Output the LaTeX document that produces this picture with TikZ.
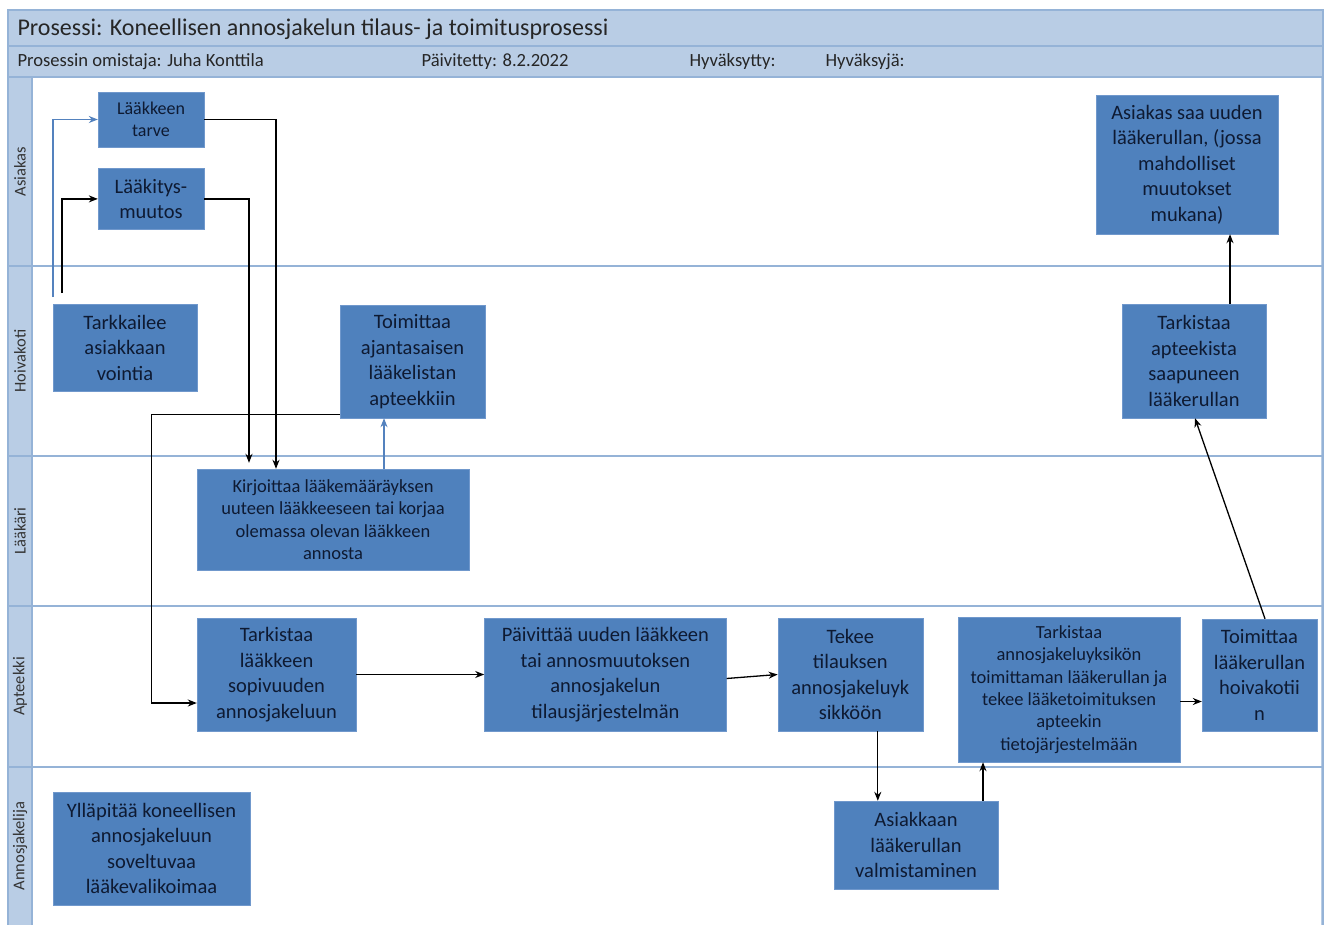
\documentclass[tikz,border=0pt]{standalone}
\usepackage{fontspec}
\setmainfont{Carlito}
\usetikzlibrary{positioning,arrows.meta}
\definecolor{taskfill}{RGB}{79,129,189}
\definecolor{taskline}{RGB}{112,152,204}
\definecolor{tasktext}{RGB}{14,26,50}
\definecolor{lanefill}{RGB}{185,205,229}
\definecolor{laneline}{RGB}{149,179,215}
\definecolor{flowblue}{RGB}{84,130,190}
\tikzstyle{arrow} = [line width=1.3pt,->,>={Stealth[length=9pt,width=7pt]}]
\tikzstyle{bluearrow} = [arrow,line width=1.1pt,flowblue]
\tikzstyle{task} = [draw=taskline, fill=taskfill, text=tasktext, align=center, inner sep=0pt, font=\fontsize{20.5}{25.5}\selectfont]
\tikzstyle{smalltask} = [task, font=\fontsize{18.5}{22.4}\selectfont]
\tikzstyle{headtext} = [anchor=west, text=black!85, font=\fontsize{18.6}{22}\selectfont]
\tikzstyle{lanelabel} = [rotate=90, text=black!80, font=\fontsize{16.5}{20}\selectfont]

\begin{document}
\begin{tikzpicture}[x=1pt,y=-1pt]
    \useasboundingbox (0,0) rectangle (1327,925);
    \fill [lanefill] (8,10) rectangle (1323,925);
    \fill [white] (32,77) rectangle (1321,925);
    \draw [laneline, line width=1.5pt] (8,925) -- (8,10) -- (1323,10) -- (1323,925);
    \draw [laneline, line width=1.5pt] (8,46) -- (1323,46);
    \draw [laneline, line width=1.5pt] (8,77) -- (1323,77);
    \draw [laneline, line width=1.5pt] (32,77) -- (32,925);
    \foreach \y in {266,456,606,767}
        \draw [laneline, line width=2.2pt] (8,\y) -- (1323,\y);

    \node (title) [headtext, font=\fontsize{24}{28}\selectfont] at (14,29) {Prosessi: Koneellisen annosjakelun tilaus- ja toimitusprosessi};
    \node (owner) [headtext] at (14,62) {Prosessin omistaja: Juha Konttila};
    \node (updated) [headtext] at (418,62) {Päivitetty: 8.2.2022};
    \node (approved) [headtext] at (686,62) {Hyväksytty:};
    \node (approver) [headtext] at (822,62) {Hyväksyjä:};

    \node (lane-asiakas) [lanelabel] at (20,171.5) {Asiakas};
    \node (lane-hoivakoti) [lanelabel] at (20,361) {Hoivakoti};
    \node (lane-laakari) [lanelabel] at (20,531) {Lääkäri};
    \node (lane-apteekki) [lanelabel] at (20,686.5) {Apteekki};
    \node (lane-annosjakelija) [lanelabel] at (20,846) {Annosjakelija};

    \node (need-tarve) [smalltask, font=\fontsize{18}{22}\selectfont, minimum width=106pt, minimum height=55pt] at (151,119.5) {Lääkkeen\\tarve};
    \node (med-change) [task, minimum width=106pt, minimum height=61pt, below=21pt of need-tarve] {Lääkitys-\\muutos};
    \node (monitor) [task, minimum width=144pt, minimum height=87pt] at (125,347.5) {Tarkkailee\\asiakkaan\\vointia};
    \node (med-list) [task, minimum width=145pt, minimum height=113pt] at (412.5,361.5) {Toimittaa\\ajantasaisen\\lääkelistan\\apteekkiin};
    \node (prescribe) [smalltask, minimum width=272pt, minimum height=101pt] at (333,519.5) {Kirjoittaa lääkemääräyksen\\uuteen lääkkeeseen tai korjaa\\olemassa olevan lääkkeen\\annosta};

    \node (check-fit) [task, minimum width=159pt, minimum height=113pt] at (276.5,674.5) {Tarkistaa\\lääkkeen\\sopivuuden\\annosjakeluun};
    \node (update) [task, minimum width=242pt, minimum height=113pt, right=128pt of check-fit] {Päivittää uuden lääkkeen\\tai annosmuutoksen\\annosjakelun\\tilausjärjestelmän};
    \node (order) [task, minimum width=145pt, minimum height=113pt, right=51pt of update] {Tekee\\tilauksen\\annosjakeluyk\\sikköön};
    \node (check-roll) [smalltask, minimum width=222pt, minimum height=145pt] at (1069,689.5) {Tarkistaa\\annosjakeluyksikön\\toimittaman lääkerullan ja\\tekee lääketoimituksen\\apteekin\\tietojärjestelmään};
    \node (deliver) [task, minimum width=115pt, minimum height=112pt] at (1259.5,675) {Toimittaa\\lääkerullan\\hoivakotii\\n};

    \node (produce) [task, minimum width=164pt, minimum height=88pt] at (916,845) {Asiakkaan\\lääkerullan\\valmistaminen};
    \node (maintain) [task, minimum width=197pt, minimum height=113pt] at (151.5,848.5) {Ylläpitää koneellisen\\annosjakeluun\\soveltuvaa\\lääkevalikoimaa};

    \node (check-arrived) [task, minimum width=144pt, minimum height=114pt] at (1194,361) {Tarkistaa\\apteekista\\saapuneen\\lääkerullan};
    \node (new-roll) [task, minimum width=182pt, minimum height=139pt] at (1187,164.5) {Asiakas saa uuden\\lääkerullan, (jossa\\mahdolliset\\muutokset\\mukana)};

    \coordinate (watch-need) at (53,297);
    \coordinate (watch-change) at (62,293);
    \draw [bluearrow] (watch-need) |- (need-tarve);
    \draw [arrow] (watch-change) |- (med-change);

    \draw [arrow] (need-tarve.east) -| ([xshift=-57pt]prescribe.north);
    \draw [arrow, shorten >=6pt] (med-change.east) -| ([xshift=-84pt]prescribe.north);
    \draw [bluearrow] ([xshift=51pt]prescribe.north) -- ([xshift=51pt]prescribe.north |- med-list.south);
    \draw [arrow] ([yshift=4pt]med-list.south west) -- ++(-188,0) |- ([yshift=-28.5pt]check-fit.west);

    \draw [arrow] (check-fit) -- (update);
    \draw [arrow] ([yshift=-4pt]update.east) -- (order.west);
    \draw [arrow] ([xshift=27.5pt]order.south) -- ([xshift=27.5pt]order.south |- produce.north);
    \draw [arrow] ([xshift=67pt]produce.north) -- ([xshift=67pt]produce.north |- check-roll.south);
    \draw [arrow] ([yshift=-12pt]check-roll.east) -- ([yshift=-12pt]check-roll.east -| deliver.west);
    \draw [arrow] ([xshift=5.5pt]deliver.north) -- ([xshift=1pt]check-arrived.south);
    \draw [arrow] ([xshift=36pt]check-arrived.north) -- ([xshift=36pt]check-arrived.north |- new-roll.south);

  \end{tikzpicture}
\end{document}
